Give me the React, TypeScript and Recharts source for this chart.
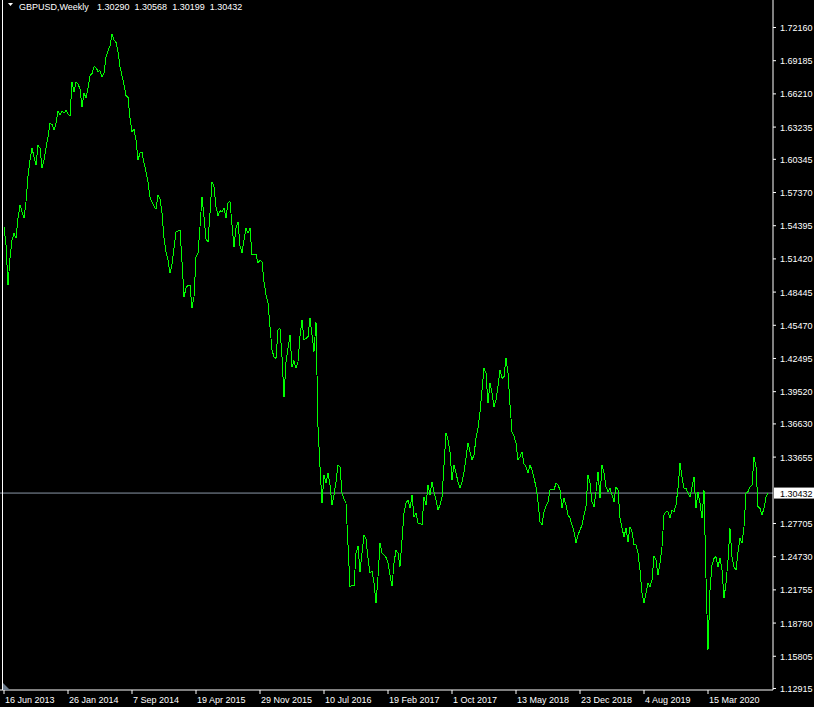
import { LineChart, Line, XAxis, YAxis, ReferenceLine } from 'recharts'

// weekly closes, GBPUSD, starting week of 16 Jun 2013
const closes = [
  1.5431, 1.5267, 1.4908, 1.5147, 1.5311, 1.5371, 1.5327, 1.5506, 1.5625, 1.5565,
  1.5511, 1.5655, 1.5879, 1.6028, 1.6133, 1.6058, 1.5984, 1.6163, 1.6133, 1.5954,
  1.6028, 1.6133, 1.6237, 1.6357, 1.6348, 1.6297, 1.6357, 1.6468, 1.6432, 1.647,
  1.6447, 1.6474, 1.6443, 1.6423, 1.673, 1.6641, 1.6725, 1.671, 1.6665, 1.6506,
  1.6626, 1.6587, 1.6671, 1.6784, 1.6802, 1.6865, 1.6856, 1.6823, 1.6829, 1.677,
  1.6806, 1.6954, 1.7008, 1.7053, 1.7155, 1.7107, 1.7083, 1.6999, 1.6865, 1.6784,
  1.6701, 1.6605, 1.659, 1.6402, 1.6282, 1.6304, 1.6208, 1.6028, 1.6091, 1.61,
  1.6002, 1.5924, 1.5834, 1.5694, 1.5649, 1.5616, 1.5587, 1.5715, 1.5676, 1.5551,
  1.5327, 1.5207, 1.5132, 1.5013, 1.5096, 1.5237, 1.5386, 1.5392, 1.5401, 1.5117,
  1.4803, 1.4878, 1.4908, 1.4908, 1.4699, 1.4803, 1.5156, 1.5192, 1.5431, 1.57,
  1.552, 1.5318, 1.5296, 1.5551, 1.5834, 1.5789, 1.561, 1.5527, 1.5574, 1.5565,
  1.5601, 1.5506, 1.5646, 1.5655, 1.5446, 1.5251, 1.5416, 1.5475, 1.5258, 1.5198,
  1.5311, 1.5416, 1.5371, 1.5416, 1.5177, 1.5183, 1.5186, 1.5103, 1.5132, 1.5117,
  1.4938, 1.4818, 1.4747, 1.4534, 1.4325, 1.4265, 1.4251, 1.4505, 1.452, 1.4265,
  1.3904, 1.4221, 1.4341, 1.446, 1.4176, 1.423, 1.4161, 1.4221, 1.4445, 1.4594,
  1.4415, 1.443, 1.4445, 1.461, 1.446, 1.431, 1.4579, 1.3638, 1.328, 1.2955,
  1.3205, 1.3136, 1.322, 1.3115, 1.2936, 1.3026, 1.3145, 1.3295, 1.328, 1.3044,
  1.2987, 1.2951, 1.2578, 1.2204, 1.2219, 1.221, 1.2503, 1.2569, 1.2338, 1.2503,
  1.2667, 1.2629, 1.2458, 1.2324, 1.2347, 1.2234, 1.2055, 1.2294, 1.2593, 1.2503,
  1.2488, 1.2467, 1.2419, 1.2309, 1.221, 1.2414, 1.2533, 1.2503, 1.2383, 1.2623,
  1.2862, 1.2951, 1.2981, 1.2907, 1.3026, 1.2831, 1.2862, 1.2772, 1.2772, 1.2757,
  1.3008, 1.2936, 1.3115, 1.3026, 1.3145, 1.3055, 1.2981, 1.2891, 1.2936, 1.3008,
  1.3295, 1.3584, 1.3519, 1.3414, 1.316, 1.3295, 1.322, 1.3145, 1.3086, 1.3145,
  1.3235, 1.3355, 1.3495, 1.3414, 1.334, 1.3384, 1.3534, 1.3624, 1.3772, 1.3967,
  1.4161, 1.4117, 1.3848, 1.4027, 1.3937, 1.3817, 1.3877, 1.3997, 1.4146, 1.4072,
  1.4086, 1.4251, 1.4117, 1.3832, 1.3593, 1.3555, 1.3489, 1.334, 1.3369, 1.3414,
  1.3304, 1.328, 1.322, 1.3295, 1.325, 1.3176, 1.31, 1.2966, 1.2787, 1.2757,
  1.2876, 1.2927, 1.2966, 1.3071, 1.3071, 1.3071, 1.3131, 1.3115, 1.3071, 1.2907,
  1.2999, 1.2936, 1.2847, 1.2817, 1.2757, 1.2697, 1.2598, 1.2667, 1.2712, 1.2757,
  1.2847, 1.2921, 1.3205, 1.3131, 1.2966, 1.2921, 1.3055, 1.3235, 1.2999, 1.3295,
  1.322, 1.31, 1.3055, 1.3086, 1.3026, 1.2966, 1.31, 1.3071, 1.2817, 1.2727,
  1.2652, 1.2727, 1.2607, 1.2742, 1.2697, 1.2578, 1.2578, 1.2503, 1.2354, 1.2147,
  1.2061, 1.2147, 1.2234, 1.2204, 1.2264, 1.2479, 1.2443, 1.2309, 1.2414, 1.2562,
  1.2847, 1.2876, 1.2876, 1.2817, 1.2891, 1.2876, 1.2936, 1.3086, 1.331, 1.319,
  1.3086, 1.3086, 1.3044, 1.3008, 1.31, 1.319, 1.2907, 1.3055, 1.2951, 1.2817,
  1.3071, 1.2282, 1.1637, 1.2174, 1.2398, 1.2458, 1.2473, 1.2383, 1.2458, 1.2354,
  1.2103, 1.2234, 1.2443, 1.2727, 1.2473, 1.2383, 1.2354, 1.2518, 1.2638, 1.2593,
  1.2742, 1.3044, 1.3055, 1.31, 1.3115, 1.3369, 1.328, 1.2921, 1.2907, 1.2847,
  1.2907, 1.3008, 1.30432,
]

const dateTickWeeks = [0, 32, 64, 96, 128, 160, 192, 224, 256, 288, 320, 352]
const dateLabels = [
  '16 Jun 2013', '26 Jan 2014', '7 Sep 2014', '19 Apr 2015', '29 Nov 2015', '10 Jul 2016',
  '19 Feb 2017', '1 Oct 2017', '13 May 2018', '23 Dec 2018', '4 Aug 2019', '15 Mar 2020',
]

const priceTicks = [
  1.7216, 1.69185, 1.6621, 1.63235, 1.60345, 1.5737, 1.54395, 1.5142, 1.48445, 1.4547,
  1.42495, 1.3952, 1.3663, 1.33655, 1.27705, 1.2473, 1.21755, 1.1878, 1.15805, 1.12915,
]
const priceLabels = [
  '1.72160', '1.69185', '1.66210', '1.63235', '1.60345', '1.57370', '1.54395', '1.51420', '1.48445', '1.45470',
  '1.42495', '1.39520', '1.36630', '1.33655', '1.27705', '1.24730', '1.21755', '1.18780', '1.15805', '1.12915',
]

const symbol = 'GBPUSD,Weekly'
const ohlc = ['1.30290', '1.30568', '1.30199', '1.30432']
const lastClose = 1.30432

const FONT = '"Liberation Sans", Arial, sans-serif'

const data = closes.map((c, i) => ({ week: i, close: c }))

function PriceTick(props: any) {
  const { x, y, payload } = props
  const label = priceLabels[priceTicks.indexOf(payload.value)]
  return (
    <g>
      <line x1={x} y1={y} x2={x + 3} y2={y} stroke="#fff" />
      <text x={x + 7} y={y + 3.5} fill="#fff" fontSize={9} fontFamily={FONT}>{label}</text>
    </g>
  )
}

function DateTick(props: any) {
  const { x, y, payload } = props
  const label = dateLabels[dateTickWeeks.indexOf(payload.value)]
  return (
    <g>
      <line x1={x} y1={y} x2={x} y2={y + 4} stroke="#fff" />
      <text x={x + 1} y={y + 13} fill="#fff" fontSize={9} fontFamily={FONT}>{label}</text>
    </g>
  )
}

function PriceBox(props: any) {
  const vb = props.viewBox || {}
  const bx = vb.x + vb.width + 1
  return (
    <g>
      <rect x={bx} y={vb.y - 5.5} width={42} height={11} fill="#fff" />
      <text x={bx + 6} y={vb.y + 3.5} fill="#000" fontSize={9} fontFamily={FONT}>{ohlc[3]}</text>
    </g>
  )
}

export default function App() {
  return (
    <div style={{ position: 'absolute', left: 0, top: 0, width: 814, height: 707, background: '#000' }}>
      <style>{'.recharts-line-curve{shape-rendering:crispEdges}'}</style>
      <LineChart width={814} height={707} data={data} margin={{ top: 0, right: 0, bottom: 0, left: 0 }}>
        <XAxis
          dataKey="week"
          type="number"
          domain={[-2, 384.5]}
          ticks={dateTickWeeks}
          interval={0}
          height={17}
          tickSize={0}
          tickMargin={0}
          tickLine={false}
          axisLine={{ stroke: '#fff' }}
          tick={<DateTick />}
          allowDataOverflow
        />
        <YAxis
          orientation="right"
          type="number"
          domain={[1.12781, 1.74625]}
          ticks={priceTicks}
          interval={0}
          width={41}
          tickSize={0}
          tickMargin={0}
          tickLine={false}
          axisLine={{ stroke: '#fff' }}
          tick={<PriceTick />}
          allowDataOverflow
        />
        <ReferenceLine y={lastClose} stroke="#8b97a7" strokeWidth={1} label={<PriceBox />} />
        <Line
          type="linear"
          dataKey="close"
          stroke="#00ff00"
          strokeWidth={1}
          dot={false}
          activeDot={false}
          isAnimationActive={false}
        />
      </LineChart>
      <svg width={814} height={707} style={{ position: 'absolute', left: 0, top: 0, pointerEvents: 'none' }}>
        <line x1={2.5} y1={0} x2={2.5} y2={690} stroke="#fff" />
        <polygon points="3,683 3,690 10,690" fill="#6b7b8c" />
        <polygon points="8,3 13,3 10.5,6" fill="#fff" />
        <text x={19} y={10} fill="#fff" fontSize={9} fontFamily={FONT}>{symbol}</text>
        {ohlc.map((v, i) => (
          <text key={i} x={97 + i * 37.6} y={10} fill="#fff" fontSize={9} fontFamily={FONT}>{v}</text>
        ))}
      </svg>
    </div>
  )
}
